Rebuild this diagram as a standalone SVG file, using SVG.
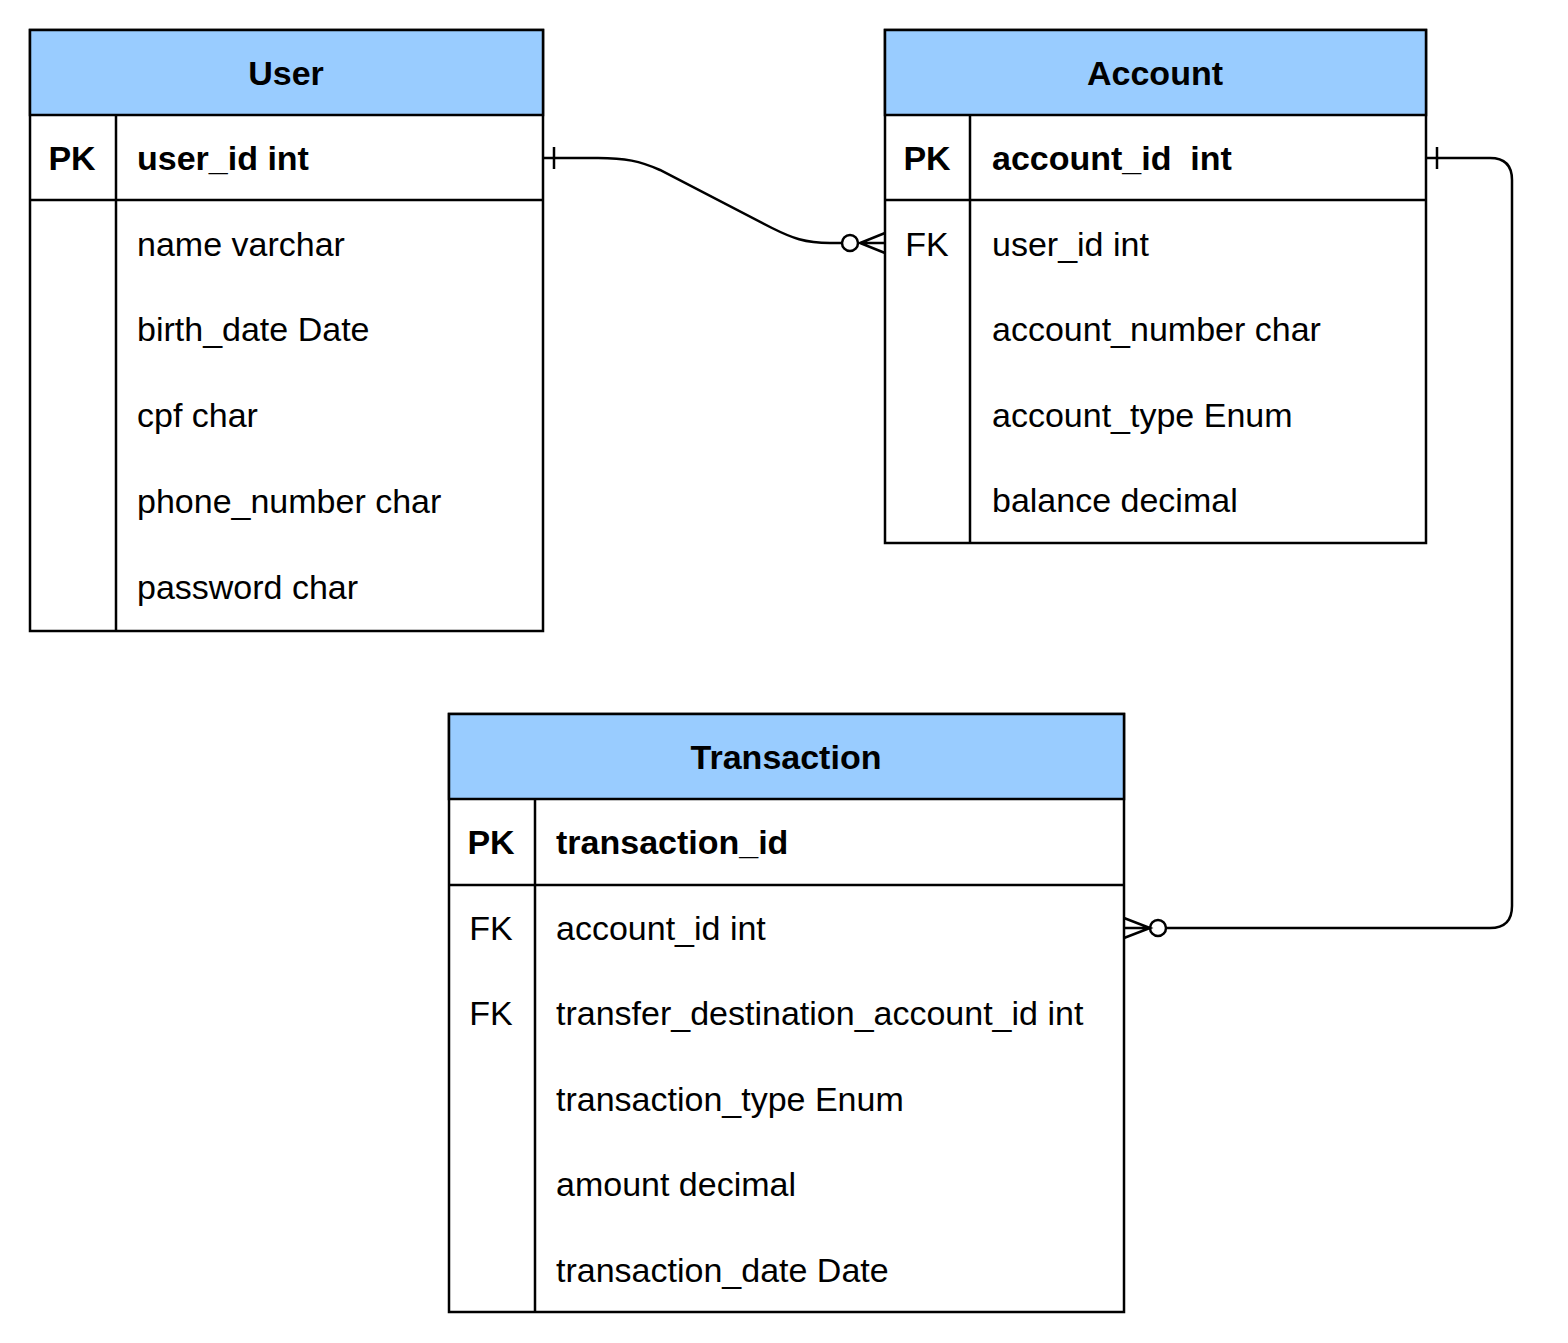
<svg xmlns="http://www.w3.org/2000/svg" width="1568" height="1343" viewBox="0 0 1568 1343">
<style>
.box{fill:#ffffff;stroke:#000;stroke-width:2.5}
.hdr{fill:#99CCFF;stroke:#000;stroke-width:2.5}
.ln{stroke:#000;stroke-width:2.5;fill:none}
text{font-family:"Liberation Sans",Arial,Helvetica,sans-serif;font-size:34px;fill:#000}
.b{font-weight:bold}
.c{text-anchor:middle}
</style>
<rect width="1568" height="1343" fill="#ffffff"/>
<g id="connectors">
  <path class="ln" d="M543,158 L598,158 C625,158 640,161 660,170 L772,228 C792,238 805,243 830,243 L842,243"/>
  <line class="ln" x1="554" y1="147" x2="554" y2="169"/>
  <circle class="ln" cx="850" cy="243" r="8"/>
  <path class="ln" d="M885,233 L860,243 L885,253 M860,243 L885,243"/>
  <path class="ln" d="M1426,158 L1490,158 Q1512,158 1512,180 L1512,906 Q1512,928 1490,928 L1166,928"/>
  <line class="ln" x1="1437" y1="147" x2="1437" y2="169"/>
  <circle class="ln" cx="1158" cy="928" r="8"/>
  <path class="ln" d="M1124,918 L1150,928 L1124,938 M1150,928 L1124,928"/>
</g>
<g id="user">
  <rect class="box" x="30" y="30" width="513" height="601"/>
  <rect class="hdr" x="30" y="30" width="513" height="85"/>
  <line class="ln" x1="30" y1="200" x2="543" y2="200"/>
  <line class="ln" x1="116" y1="115" x2="116" y2="631"/>
  <text class="b c" x="286" y="85">User</text>
  <text class="b c" x="72" y="170">PK</text>
  <text class="b" x="137" y="170">user_id int</text>
  <text x="137" y="256">name varchar</text>
  <text x="137" y="341">birth_date Date</text>
  <text x="137" y="427">cpf char</text>
  <text x="137" y="513">phone_number char</text>
  <text x="137" y="599">password char</text>
</g>
<g id="account">
  <rect class="box" x="885" y="30" width="541" height="513"/>
  <rect class="hdr" x="885" y="30" width="541" height="85"/>
  <line class="ln" x1="885" y1="200" x2="1426" y2="200"/>
  <line class="ln" x1="970" y1="115" x2="970" y2="543"/>
  <text class="b c" x="1155" y="85">Account</text>
  <text class="b c" x="927" y="170">PK</text>
  <text class="b" x="992" y="170" xml:space="preserve">account_id  int</text>
  <text class="c" x="927" y="256">FK</text>
  <text x="992" y="256">user_id int</text>
  <text x="992" y="341">account_number char</text>
  <text x="992" y="427">account_type Enum</text>
  <text x="992" y="512">balance decimal</text>
</g>
<g id="transaction">
  <rect class="box" x="449" y="714" width="675" height="598"/>
  <rect class="hdr" x="449" y="714" width="675" height="85"/>
  <line class="ln" x1="449" y1="885" x2="1124" y2="885"/>
  <line class="ln" x1="535" y1="799" x2="535" y2="1312"/>
  <text class="b c" x="786" y="769">Transaction</text>
  <text class="b c" x="491" y="854">PK</text>
  <text class="b" x="556" y="854">transaction_id</text>
  <text class="c" x="491" y="940">FK</text>
  <text x="556" y="940">account_id int</text>
  <text class="c" x="491" y="1025">FK</text>
  <text x="556" y="1025">transfer_destination_account_id int</text>
  <text x="556" y="1111">transaction_type Enum</text>
  <text x="556" y="1196">amount decimal</text>
  <text x="556" y="1282">transaction_date Date</text>
</g>
</svg>
